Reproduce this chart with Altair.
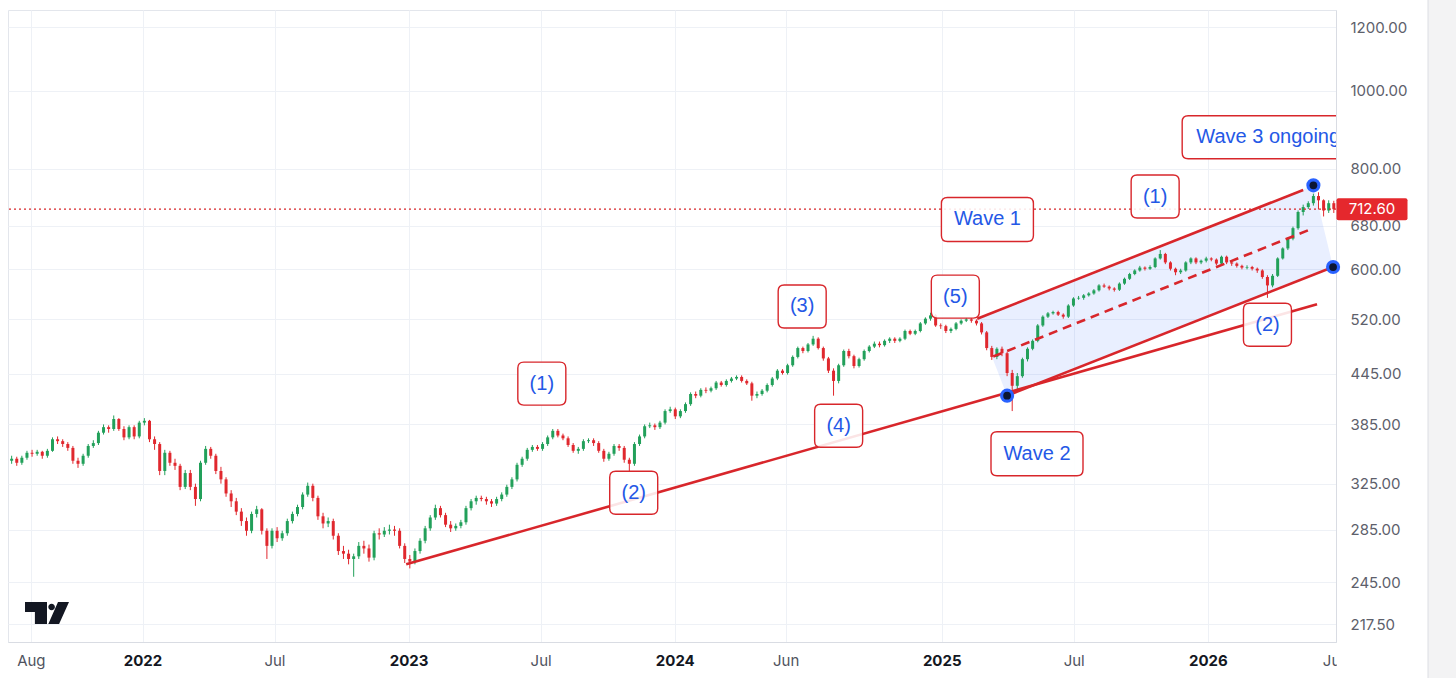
import altair as alt
import pandas as pd

# ---------------- data ----------------
# weekly bars, first bar week of 2021-07-05
closes = [
    349, 345, 350, 355, 354, 356, 352, 357, 369, 367,
    364, 360, 347, 344, 352, 362, 365, 376, 382, 380,
    391, 380, 371, 382, 372, 387, 389, 369, 364, 337,
    355, 345, 342, 322, 335, 322, 311, 345, 359, 352,
    337, 329, 316, 309, 300, 292, 284, 298, 302, 284,
    272, 284, 278, 282, 292, 298, 304, 315, 323, 312,
    296, 290, 292, 280, 268, 266, 262, 264, 272, 270,
    263, 282, 281, 284, 285, 284, 272, 262, 260, 268,
    276, 286, 295, 303, 297, 289, 286, 288, 291, 303,
    309, 312, 311, 309, 307, 311, 315, 322, 329, 343,
    349, 358, 361, 359, 364, 371, 378, 373, 370, 363,
    357, 359, 367, 368, 365, 357, 349, 354, 362, 360,
    348, 344, 364, 372, 383, 384, 382, 387, 400, 402,
    394, 400, 408, 420, 418, 425, 424, 427, 434, 431,
    436, 439, 441, 436, 433, 418, 420, 424, 431, 439,
    449, 446, 456, 467, 479, 475, 484, 492, 479, 465,
    449, 436, 456, 475, 468, 455, 464, 475, 481, 485,
    483, 489, 492, 489, 492, 503, 499, 503, 514, 521,
    526, 511, 510, 503, 506, 514, 518, 520, 518, 514,
    501, 479, 467, 478, 472, 446, 430, 442, 464, 478,
    489, 511, 524, 529, 531, 527, 524, 541, 552, 553,
    557, 560, 565, 573, 571, 568, 566, 576, 584, 592,
    598, 603, 601, 604, 619, 627, 612, 601, 595, 598,
    612, 619, 612, 615, 619, 617, 610, 622, 612, 610,
    606, 603, 604, 601, 598, 587, 573, 589, 619, 637,
    655, 675, 707, 717, 725, 740, 731, 710, 725, 712.60,
]
highs = [
    352, 351, 352, 357, 358, 358, 357, 359, 371, 372,
    369, 366, 362, 350, 354, 364, 368, 378, 385, 384,
    395, 392, 383, 384, 384, 389, 392, 390, 372, 366,
    358, 357, 349, 344, 338, 338, 325, 347, 362, 361,
    354, 341, 331, 319, 312, 303, 295, 300, 305, 303,
    286, 286, 287, 284, 294, 300, 306, 317, 326, 325,
    314, 299, 295, 294, 282, 272, 269, 266, 275, 276,
    273, 284, 286, 287, 289, 288, 286, 274, 265, 270,
    278, 288, 297, 306, 305, 299, 292, 290, 293, 305,
    311, 314, 314, 313, 311, 313, 317, 324, 331, 345,
    351, 360, 363, 363, 366, 373, 380, 380, 375, 372,
    365, 361, 369, 370, 370, 367, 359, 356, 364, 364,
    362, 350, 366, 374, 385, 387, 386, 389, 402, 405,
    404, 402, 410, 422, 423, 427, 428, 429, 436, 436,
    438, 441, 443, 443, 438, 435, 423, 426, 433, 441,
    451, 451, 458, 469, 481, 481, 486, 496, 494, 481,
    467, 452, 458, 477, 478, 470, 466, 477, 483, 488,
    488, 491, 494, 494, 494, 505, 505, 505, 516, 523,
    530, 528, 514, 512, 508, 516, 520, 523, 522, 520,
    516, 503, 482, 480, 481, 474, 450, 446, 466, 480,
    491, 513, 526, 531, 533, 533, 529, 543, 554, 556,
    559, 562, 567, 575, 576, 573, 570, 578, 586, 594,
    600, 606, 605, 607, 621, 634, 629, 614, 603, 601,
    614, 621, 621, 617, 622, 621, 619, 624, 624, 614,
    612, 608, 607, 606, 603, 600, 590, 592, 621, 639,
    657, 678, 710, 722, 729, 745, 748, 733, 731, 730,
]
lows = [
    344, 342, 343, 348, 351, 352, 349, 350, 356, 364,
    361, 357, 344, 340, 342, 350, 360, 363, 374, 376,
    378, 378, 368, 369, 369, 370, 384, 366, 358, 333,
    333, 342, 338, 319, 320, 319, 305, 309, 343, 349,
    334, 325, 313, 304, 297, 288, 280, 282, 295, 281,
    262, 270, 275, 276, 280, 290, 296, 302, 313, 309,
    293, 286, 287, 277, 265, 262, 258, 249, 262, 266,
    260, 261, 277, 279, 281, 280, 270, 259, 255, 258,
    266, 274, 284, 293, 295, 287, 283, 284, 286, 289,
    301, 306, 309, 306, 304, 305, 309, 313, 320, 327,
    341, 347, 356, 357, 357, 362, 369, 371, 368, 361,
    355, 354, 357, 365, 362, 355, 346, 347, 352, 357,
    345, 337, 342, 362, 370, 381, 379, 380, 385, 398,
    391, 392, 398, 406, 415, 416, 421, 422, 425, 429,
    429, 434, 437, 434, 431, 412, 415, 418, 422, 429,
    437, 444, 444, 454, 465, 472, 473, 482, 477, 462,
    446, 418, 433, 454, 465, 452, 453, 462, 473, 479,
    480, 481, 486, 486, 487, 490, 497, 497, 501, 512,
    518, 509, 506, 500, 500, 504, 512, 516, 515, 511,
    498, 476, 463, 464, 468, 442, 400, 425, 440, 461,
    476, 487, 509, 522, 527, 525, 521, 522, 539, 550,
    550, 555, 558, 563, 569, 565, 563, 564, 574, 582,
    590, 596, 598, 599, 602, 617, 609, 598, 590, 592,
    596, 609, 609, 609, 612, 614, 607, 608, 609, 606,
    603, 600, 600, 598, 594, 584, 553, 570, 587, 617,
    634, 652, 672, 700, 713, 720, 712, 698, 705, 705,
]
first_open = 347.0
first_week = "2021-07-05"

y_ticks = [217.5, 245, 285, 325, 385, 445, 520, 600, 680, 800, 1000, 1200]
x_tick_dates = ["2021-08-01", "2022-01-01", "2022-07-01", "2023-01-01", "2023-07-01",
                "2024-01-01", "2024-06-01", "2025-01-01", "2025-07-01", "2026-01-01", "2026-07-01"]
x_tick_labels = ["Aug", "2022", "Jul", "2023", "Jul", "2024", "Jun", "2025", "Jul", "2026", "Jul"]

# trend lines
line_name = ["base", "upper", "lower", "mid"]
line_start_date = ["2022-12-28", "2025-02-18", "2025-03-31", "2025-03-12"]
line_start_value = [258, 521, 418, 467.5]
line_end_date = ["2026-05-30", "2026-05-11", "2026-06-21", "2026-05-25"]
line_end_value = [543, 753, 604, 675]

# shaded channel
chan_date = ["2025-02-18", "2025-03-31", "2026-05-25", "2026-06-21"]
chan_top = [521, 540, 763, 604]
chan_bottom = [521, 418, 591.5, 604]

# pivot dots
dot_date = ["2025-03-31", "2026-05-25", "2026-06-21"]
dot_value = [418, 763, 604]

# labels
ann_text = ["(1)", "(2)", "(3)", "(4)", "(5)", "Wave 1", "(1)", "(2)", "Wave 2", "Wave 3 ongoing"]
ann_date = ["2023-07-02", "2023-11-05", "2024-06-23", "2024-08-12", "2025-01-19",
            "2025-03-04", "2025-10-20", "2026-03-23", "2025-05-11", "2026-03-24"]
ann_value = [432.7, 316.6, 539.5, 383.6, 555, 692, 739, 512, 354, 875.6]

# ---------------- styling ----------------
W, H = 1328, 632
GREEN = "#22a05a"
RED = "#e0282e"
LINE_RED = "#d8262b"
BLUE = "#2458e6"
GRID = "#eef1f6"
FONT = "Liberation Sans"
AXFONT = "Inter"


def box_path(w, h, r):
    s = max(w, h) / 2.0
    hw, hh, rr = w / 2.0 / s, h / 2.0 / s, r / s
    f = lambda v: f"{v:.4f}"
    return (f"M{f(-hw+rr)},{f(-hh)}L{f(hw-rr)},{f(-hh)}Q{f(hw)},{f(-hh)},{f(hw)},{f(-hh+rr)}"
            f"L{f(hw)},{f(hh-rr)}Q{f(hw)},{f(hh)},{f(hw-rr)},{f(hh)}"
            f"L{f(-hw+rr)},{f(hh)}Q{f(-hw)},{f(hh)},{f(-hw)},{f(hh-rr)}"
            f"L{f(-hw)},{f(-hh+rr)}Q{f(-hw)},{f(-hh)},{f(-hw+rr)},{f(-hh)}Z")


dates = pd.date_range(first_week, periods=len(closes), freq="7D")
candles = pd.DataFrame({"date": dates, "open": [first_open] + closes[:-1], "close": closes,
                        "high": highs, "low": lows})

lines = pd.DataFrame({
    "name": line_name * 2,
    "date": pd.to_datetime(line_start_date + line_end_date),
    "value": line_start_value + line_end_value,
})
chan = pd.DataFrame({"date": pd.to_datetime(chan_date), "top": chan_top, "bottom": chan_bottom})
dots = pd.DataFrame({"date": pd.to_datetime(dot_date), "value": dot_value})
ann = pd.DataFrame({"text": ann_text, "date": pd.to_datetime(ann_date), "value": ann_value})
xt = pd.DataFrame({"date": pd.to_datetime(x_tick_dates), "label": x_tick_labels})
xt["year"] = xt["label"].str.isdigit()
xt_last = xt.iloc[[-1]]
xt = xt.iloc[:-1]
last = pd.DataFrame({"value": [closes[-1]], "label": [f"{closes[-1]:.2f}"]})
one = pd.DataFrame({"a": [0]})

x_scale = alt.Scale(domain=[alt.DateTime(year=2021, month=6, date=30),
                            alt.DateTime(year=2026, month=6, date=25)])
x_axis = alt.Axis(values=[alt.DateTime(year=int(d[:4]), month=int(d[5:7]), date=1) for d in x_tick_dates[:-1]],
                  labels=False, ticks=False, grid=True, gridColor=GRID, domain=True,
                  domainColor="#d9dce3", title=None)
y_scale = alt.Scale(type="log", domain=[206.6, 1260], nice=False)
y_axis = alt.Axis(orient="right", values=y_ticks, format=".2f", grid=True, gridColor=GRID,
                  ticks=False, labelPadding=14, labelFontSize=15, labelFont=AXFONT,
                  labelColor="#5d606b", domain=True, domainColor="#d9dce3", title=None)


def X(f):
    return alt.X(f, type="temporal", scale=x_scale, axis=x_axis)


def Y(f):
    return alt.Y(f, type="quantitative", scale=y_scale, axis=y_axis)


color_cond = alt.condition("datum.close >= datum.open", alt.value(GREEN), alt.value(RED))

channel = alt.Chart(chan).mark_area(color="#2962ff", opacity=0.1).encode(
    x=X("date"), y=Y("top"), y2=alt.Y2("bottom"))

wick_layer = alt.Chart(candles).mark_rule(strokeWidth=1).encode(
    x=X("date"), y=Y("low"), y2=alt.Y2("high"), color=color_cond)

body = alt.Chart(candles).mark_rule(strokeWidth=3).encode(
    x=X("date"), y=Y("open"), y2=alt.Y2("close"), color=color_cond)

solid = alt.Chart(lines[lines["name"] != "mid"]).mark_line(color=LINE_RED, strokeWidth=2.6).encode(
    x=X("date"), y=Y("value"), detail="name:N")
dashed = alt.Chart(lines[lines["name"] == "mid"]).mark_line(
    color=LINE_RED, strokeWidth=2.6, strokeDash=[9, 6]).encode(x=X("date"), y=Y("value"))

dotted = alt.Chart(last).mark_rule(color=LINE_RED, strokeWidth=1.2, strokeDash=[2, 3]).encode(y=Y("value"))

layers = [channel, wick_layer, body, solid, dashed, dotted]

for kind, (w, h) in {"s": (48, 43), "m": (92, 44), "l": (172, 43)}.items():
    sub = ann[ann["text"].map(lambda t: "s" if len(t) <= 3 else ("m" if len(t) <= 6 else "l")) == kind]
    layers.append(alt.Chart(sub).mark_point(
        shape=box_path(w, h, 6), size=max(w, h) ** 2, fill="white", fillOpacity=0.88,
        stroke=LINE_RED, strokeWidth=1.4, opacity=1, clip=True).encode(x=X("date"), y=Y("value")))

layers.append(alt.Chart(ann).mark_text(font=FONT, fontSize=20, color=BLUE, clip=True,
                                       align="center", baseline="middle").encode(
    x=X("date"), y=Y("value"), text="text:N"))

layers.append(alt.Chart(dots).mark_point(shape="circle", filled=True, size=200, color="#2962ff",
                                         opacity=1).encode(x=X("date"), y=Y("value")))
layers.append(alt.Chart(dots).mark_point(shape="circle", filled=True, size=60, color="#0c1633",
                                         opacity=1).encode(x=X("date"), y=Y("value")))

# x labels (drawn as text below the plot)
layers.append(alt.Chart(xt[~xt["year"]]).mark_text(font=AXFONT, fontSize=15, color="#50535e",
                                                   baseline="middle").encode(
    x=X("date"), y=alt.value(H + 19), text="label:N"))
layers.append(alt.Chart(xt[xt["year"]]).mark_text(font=AXFONT, fontSize=15, fontWeight="bold",
                                                  color="#131722", baseline="middle").encode(
    x=X("date"), y=alt.value(H + 19), text="label:N"))
# the last month label sits under the price-axis panel and is partly hidden
layers.append(alt.Chart(xt_last).mark_text(font=AXFONT, fontSize=15, color="#50535e",
                                           baseline="middle", dx=-7).encode(
    x=X("date"), y=alt.value(H + 19), text="label:N"))

# price-axis panel cover and outer gray strip
layers.append(alt.Chart(one).mark_rect(color="white").encode(
    x=alt.value(W + 1), x2=alt.value(W + 92), y=alt.value(H + 1), y2=alt.value(H + 40)))
layers.append(alt.Chart(one).mark_rect(color="#f3f3f4").encode(
    x=alt.value(W + 92), x2=alt.value(W + 130), y=alt.value(-12), y2=alt.value(H + 40)))
layers.append(alt.Chart(one).mark_rule(color="#dcdee3", strokeWidth=1).encode(
    x=alt.value(W + 92), y=alt.value(-12), y2=alt.value(H + 40)))

# last price tag
layers.append(alt.Chart(last).mark_point(shape=box_path(71, 22, 2), size=71 ** 2, filled=True,
                                         color="#e5282d", opacity=1).encode(
    x=alt.value(W + 36), y=Y("value")))
layers.append(alt.Chart(last).mark_text(font=AXFONT, fontSize=15, color="white",
                                        align="center", baseline="middle").encode(
    x=alt.value(W + 36), y=Y("value"), text="label:N"))

# TradingView logo
logo = ("M-1,-0.5L0,-0.5L0,0.5L-0.55,0.5L-0.55,-0.05L-1,-0.05Z"
        "M0.36,-0.27A0.15,0.15 0 1,1 0.06,-0.27A0.15,0.15 0 1,1 0.36,-0.27Z"
        "M0.5,-0.5L1,-0.5L0.55,0.5L0.06,0.5Z")
layers.append(alt.Chart(one).mark_point(shape=logo, size=44 ** 2, filled=True, color="#131722",
                                        opacity=1).encode(x=alt.value(39), y=alt.value(603)))

chart = alt.layer(*layers).properties(
    width=W, height=H,
    padding={"left": 8, "top": 10, "right": 120, "bottom": 36},
    autosize=alt.AutoSizeParams(type="none"),
    background="white",
).configure_view(stroke="#e3e6ec", strokeWidth=1)

chart.save("out.html", embed_options={"renderer": "svg", "actions": False})
